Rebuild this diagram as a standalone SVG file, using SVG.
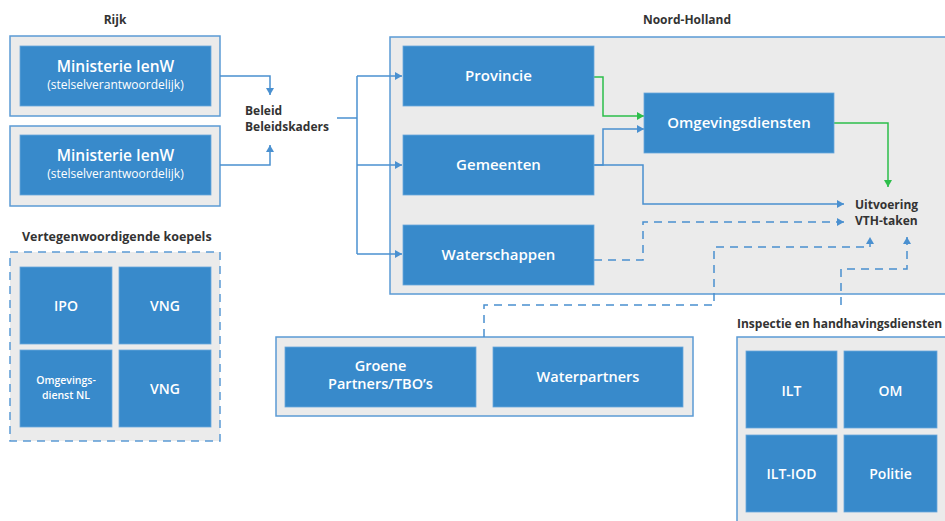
<svg xmlns="http://www.w3.org/2000/svg" width="945" height="521" viewBox="0 0 945 521">
<style>
.grp{fill:#ebebeb;stroke:#5b9bd5;stroke-width:1.5}
.grpd{fill:#ebebeb;stroke:#5b9bd5;stroke-width:1.5;stroke-dasharray:8 6}
.box{fill:#388acb;stroke:#6aa7db;stroke-width:0.8}
.t{font-family:"Open Sans","Noto Sans",sans-serif;font-weight:600;fill:#ffffff;text-anchor:middle}
.s{font-weight:400}
.l{font-family:"Open Sans","Noto Sans",sans-serif;font-weight:700;fill:#333333}
.c{fill:none;stroke:#4a90d0;stroke-width:1.5}
.g{fill:none;stroke:#2dbe4b;stroke-width:1.5}
.d{fill:none;stroke:#4a90d0;stroke-width:1.5;stroke-dasharray:8 6}
</style>
<defs>
<marker id="ab" markerUnits="userSpaceOnUse" markerWidth="8" markerHeight="8" refX="7" refY="4" orient="auto"><path d="M0,0 L7,4 L0,8 z" fill="#4a90d0"/></marker>
<marker id="ag" markerUnits="userSpaceOnUse" markerWidth="8" markerHeight="8" refX="7" refY="4" orient="auto"><path d="M0,0 L7,4 L0,8 z" fill="#2dbe4b"/></marker>
</defs>

<g id="group-noord-holland"><rect class="grp" x="390" y="37" width="570" height="257"/></g>
<g id="group-rijk-1"><rect class="grp" x="10" y="36" width="210" height="80"/></g>
<g id="group-rijk-2"><rect class="grp" x="10" y="126" width="210" height="80"/></g>
<g id="group-koepels"><rect class="grpd" x="10" y="252" width="210" height="189"/></g>
<g id="group-partners"><rect class="grp" x="276" y="337" width="417" height="79"/></g>
<g id="group-inspectie"><rect class="grp" x="737" y="337" width="220" height="200"/></g>

<g id="connectors">
<path class="c" d="M220,76 H270 V95" marker-end="url(#ab)"/>
<path class="c" d="M220,165 H270 V145" marker-end="url(#ab)"/>
<path class="c" d="M337,118 H357"/>
<path class="c" d="M357,76 V254"/>
<path class="c" d="M357,76 H402" marker-end="url(#ab)"/>
<path class="c" d="M357,165 H402" marker-end="url(#ab)"/>
<path class="c" d="M357,254 H402" marker-end="url(#ab)"/>
<path class="g" d="M594,77 H603 V116 H644" marker-end="url(#ag)"/>
<path class="c" d="M594,165 H603 V129 H644" marker-end="url(#ab)"/>
<path class="c" d="M594,165 H643 V204 H844" marker-end="url(#ab)"/>
<path class="g" d="M834,123 H888 V187" marker-end="url(#ag)"/>
<path class="d" d="M594,260 H643 V222 H844" marker-end="url(#ab)"/>
<path class="d" d="M484,337 V305 H714 V247 H870 V237" marker-end="url(#ab)"/>
<path class="d" d="M841,305 V269 H907 V237" marker-end="url(#ab)"/>
</g>

<g id="ministerie-1"><rect class="box" x="20" y="46" width="191" height="60"/>
<text class="t" x="115.5" y="72" font-size="15.5">Ministerie IenW</text>
<text class="t s" x="115.5" y="89" font-size="12">(stelselverantwoordelijk)</text></g>
<g id="ministerie-2"><rect class="box" x="20" y="135" width="191" height="60"/>
<text class="t" x="115.5" y="161" font-size="15.5">Ministerie IenW</text>
<text class="t s" x="115.5" y="178" font-size="12">(stelselverantwoordelijk)</text></g>

<g id="provincie"><rect class="box" x="403" y="46" width="191" height="60"/>
<text class="t" x="498.5" y="81" font-size="15">Provincie</text></g>
<g id="gemeenten"><rect class="box" x="403" y="135" width="191" height="60"/>
<text class="t" x="498.5" y="170" font-size="15">Gemeenten</text></g>
<g id="waterschappen"><rect class="box" x="403" y="225" width="191" height="60"/>
<text class="t" x="498.5" y="260" font-size="15">Waterschappen</text></g>
<g id="omgevingsdiensten"><rect class="box" x="644" y="93" width="190" height="60"/>
<text class="t" x="739" y="128" font-size="15">Omgevingsdiensten</text></g>

<g id="ipo"><rect class="box" x="20" y="267" width="92" height="77"/>
<text class="t" x="66" y="311" font-size="14">IPO</text></g>
<g id="vng-1"><rect class="box" x="119" y="267" width="92" height="77"/>
<text class="t" x="165" y="311" font-size="14">VNG</text></g>
<g id="omgevingsdienst-nl"><rect class="box" x="20" y="350" width="92" height="77"/>
<text class="t" x="66" y="384" font-size="10.5">Omgevings-</text>
<text class="t" x="66" y="399" font-size="10.5">dienst NL</text></g>
<g id="vng-2"><rect class="box" x="119" y="350" width="92" height="77"/>
<text class="t" x="165" y="394" font-size="14">VNG</text></g>

<g id="groene-partners"><rect class="box" x="285" y="347" width="191" height="60"/>
<text class="t" x="380.5" y="371" font-size="14.5">Groene</text>
<text class="t" x="380.5" y="389" font-size="14.5">Partners/TBO’s</text></g>
<g id="waterpartners"><rect class="box" x="493" y="347" width="190" height="60"/>
<text class="t" x="588" y="382" font-size="14.5">Waterpartners</text></g>

<g id="ilt"><rect class="box" x="746" y="351" width="91" height="77"/>
<text class="t" x="791.5" y="396" font-size="14">ILT</text></g>
<g id="om"><rect class="box" x="844" y="351" width="93" height="77"/>
<text class="t" x="890.5" y="396" font-size="14">OM</text></g>
<g id="ilt-iod"><rect class="box" x="746" y="435" width="91" height="77"/>
<text class="t" x="791.5" y="479" font-size="14">ILT-IOD</text></g>
<g id="politie"><rect class="box" x="844" y="435" width="93" height="77"/>
<text class="t" x="890.5" y="479" font-size="14">Politie</text></g>

<g id="labels">
<text class="l" x="115" y="24" font-size="12" text-anchor="middle">Rijk</text>
<text class="l" x="687" y="24" font-size="12" text-anchor="middle">Noord-Holland</text>
<text class="l" x="22" y="241" font-size="12.5">Vertegenwoordigende koepels</text>
<text class="l" x="737" y="328" font-size="12">Inspectie en handhavingsdiensten</text>
<text class="l" x="245" y="115" font-size="12">Beleid</text>
<text class="l" x="245" y="131" font-size="12">Beleidskaders</text>
<text class="l" x="855" y="209" font-size="12">Uitvoering</text>
<text class="l" x="855" y="225" font-size="12">VTH-taken</text>
</g>
</svg>
